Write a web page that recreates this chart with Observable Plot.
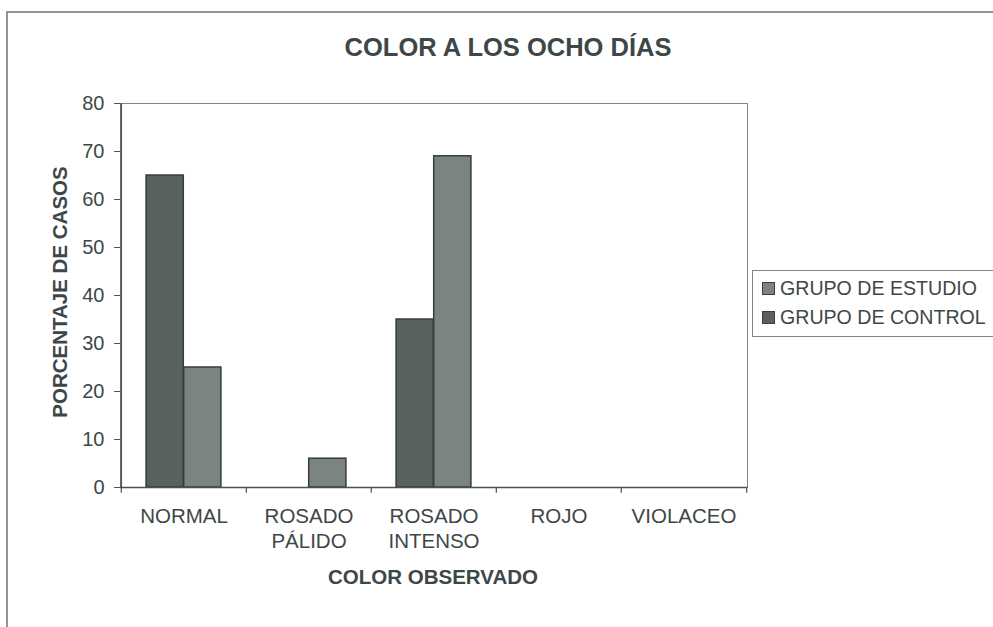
<!DOCTYPE html>
<html>
<head>
<meta charset="utf-8">
<script src="https://cdn.jsdelivr.net/npm/d3@7"></script>
<script src="https://cdn.jsdelivr.net/npm/@observablehq/plot@0.6"></script>
<style>
  html, body { margin: 0; padding: 0; background: #fff; }
  #wrap { position: relative; width: 993px; height: 627px; overflow: hidden; font-family: "Liberation Sans", Arial, sans-serif; color: #3e4747; }
  #wrap svg { position: absolute; left: 0; top: 0; }
  .outer { position: absolute; left: 6px; top: 11px; width: 1100px; height: 700px; border-left: 2px solid #8e9696; border-top: 2px solid #8e9696; }
  .title { position: absolute; left: 0; width: 1016px; top: 33px; text-align: center; font-weight: bold; font-size: 25.5px; }
  .xtitle { position: absolute; left: 233px; width: 400px; top: 565px; text-align: center; font-weight: bold; font-size: 20.5px; }
  .ytitle { position: absolute; left: 60px; top: 292px; transform: translate(-50%, -50%) rotate(-90deg); white-space: nowrap; font-weight: bold; font-size: 20.5px; }
  .legend { position: absolute; left: 752px; top: 270px; width: 260px; height: 67px; border: 1px solid #7d8585; box-sizing: border-box; }
  .item { position: absolute; left: 9px; font-size: 19.6px; white-space: nowrap; display: flex; align-items: center; }
  .sw { width: 11px; height: 11px; border: 1.5px solid #3a4040; margin-right: 5px; }
</style>
</head>
<body>
<div id="wrap"></div>
<script>
const categories = ["NORMAL", "ROSADO PÁLIDO", "ROSADO INTENSO", "ROJO", "VIOLACEO"];
const tickLabels = ["NORMAL", "ROSADO\nPÁLIDO", "ROSADO\nINTENSO", "ROJO", "VIOLACEO"];
const seriesNames = ["GRUPO DE ESTUDIO", "GRUPO DE CONTROL"];
const estudio = [25, 6, 69, 0, 0];
const control = [65, 0, 35, 0, 0];
const yTicks = [0, 10, 20, 30, 40, 50, 60, 70, 80];
const colors = { "GRUPO DE ESTUDIO": "#7c8383", "GRUPO DE CONTROL": "#586060" };

const rows = [];
categories.forEach((c, i) => {
  rows.push({ cat: c, serie: "GRUPO DE CONTROL", value: control[i] });
  rows.push({ cat: c, serie: "GRUPO DE ESTUDIO", value: estudio[i] });
});
const visible = rows.filter(d => d.value > 0);

const W = 993, H = 627, ML = 120, MR = 246, MT = 103, MB = 140;
const band = (W - ML - MR) / categories.length;
const barW = band * 0.3;
const outer = (band - 2 * barW) / 2;

const labelOf = new Map(categories.map((c, i) => [c, tickLabels[i]]));

const chart = Plot.plot({
  width: W, height: H,
  marginLeft: ML, marginRight: MR, marginTop: MT, marginBottom: MB,
  style: { fontFamily: "Liberation Sans, Arial, sans-serif", color: "#3e4747", background: "transparent" },
  x: { domain: categories, padding: 0, axis: null },
  y: { domain: [0, 80], axis: null },
  marks: [
    Plot.frame({ stroke: "#7d8585", strokeWidth: 1 }),
    Plot.barY(visible.filter(d => d.serie === "GRUPO DE CONTROL"), {
      x: "cat", y: "value", fill: d => colors[d.serie], stroke: "#363c3c", strokeWidth: 1.5,
      insetLeft: outer, insetRight: outer + barW
    }),
    Plot.barY(visible.filter(d => d.serie === "GRUPO DE ESTUDIO"), {
      x: "cat", y: "value", fill: d => colors[d.serie], stroke: "#363c3c", strokeWidth: 1.5,
      insetLeft: outer + barW, insetRight: outer
    }),
    Plot.ruleX(categories, { x: d => d, dx: -band / 2, y1: 0, y2: -1.2, stroke: "#4a5252", strokeWidth: 1.2 }),
    Plot.ruleX([categories[categories.length - 1]], { x: d => d, dx: band / 2, y1: 0, y2: -1.2, stroke: "#4a5252", strokeWidth: 1.2 }),
    Plot.ruleY([0], { stroke: "#4a5252", strokeWidth: 1.5 }),
    Plot.ruleX([categories[0]], { x: d => d, dx: -band / 2, y1: 0, y2: 80, stroke: "#4a5252", strokeWidth: 1.5 }),
    Plot.axisY({ ticks: yTicks, tickSize: 6, tickPadding: 10, fontSize: 20, label: null, stroke: "#4a5252" }),
    Plot.axisX({ tickSize: 0, tickPadding: 18, fontSize: 20.5, lineHeight: 1.2, label: null, tickFormat: d => labelOf.get(d) })
  ]
});

const wrap = document.getElementById("wrap");
wrap.innerHTML = `
  <div class="outer"></div>
  <div class="title">COLOR A LOS OCHO DÍAS</div>
  <div class="xtitle">COLOR OBSERVADO</div>
  <div class="ytitle">PORCENTAJE DE CASOS</div>
  <div class="legend">
    <div class="item" style="top:6px"><span class="sw" style="background:${colors[seriesNames[0]]}"></span>${seriesNames[0]}</div>
    <div class="item" style="top:35px"><span class="sw" style="background:${colors[seriesNames[1]]}"></span>${seriesNames[1]}</div>
  </div>`;
wrap.insertBefore(chart, wrap.firstChild);
</script>
</body>
</html>
